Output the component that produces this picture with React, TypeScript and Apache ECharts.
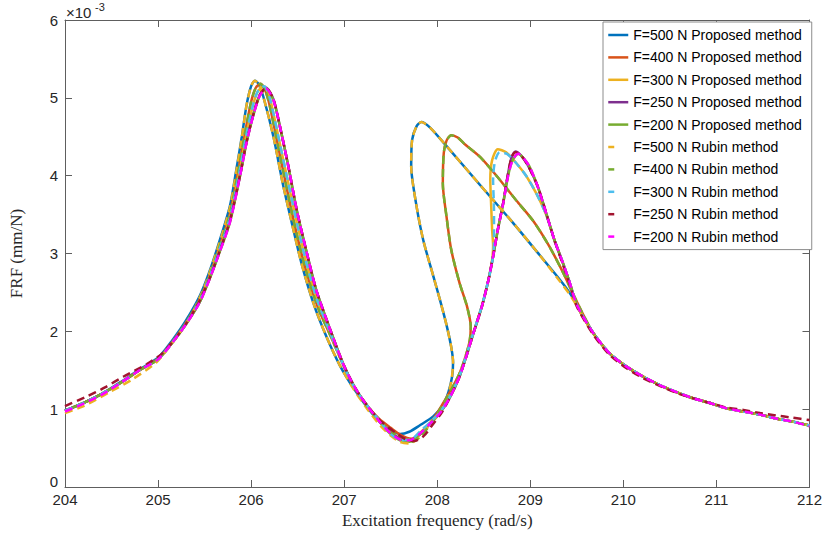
import React, { useEffect, useRef } from "react";
import * as echarts from "echarts";

// FRF values are in units of 1e-3 mm/N, frequency in rad/s
const xTicks = [204, 205, 206, 207, 208, 209, 210, 211, 212];

const TAIL = [
  [209.85, 1.72], [210.03, 1.55], [210.21, 1.42], [210.39, 1.31], [210.57, 1.22],
  [210.75, 1.14], [210.93, 1.08], [211.11, 1.01], [211.29, 0.97], [211.47, 0.93],
  [211.64, 0.88], [211.82, 0.84], [212.0, 0.79],
];
const TAIL_250R = [
  [209.85, 1.70], [210.03, 1.53], [210.21, 1.40], [210.39, 1.30], [210.57, 1.21],
  [210.75, 1.14], [210.93, 1.08], [211.11, 1.02], [211.29, 0.99], [211.47, 0.95],
  [211.64, 0.92], [211.82, 0.89], [212.0, 0.86],
];

const P500 = [
  [204.0, 0.98], [204.2, 1.08], [204.4, 1.2], [204.6, 1.35], [204.8, 1.51], [205.0, 1.66],
  [205.15, 1.88], [205.3, 2.14], [205.45, 2.46], [205.55, 2.76], [205.65, 3.12], [205.77, 3.6],
  [205.84, 4.07], [205.9, 4.5], [205.95, 4.9], [206.0, 5.15], [206.04, 5.22], [206.08, 5.18],
  [206.13, 5.02], [206.24, 4.5], [206.34, 3.9], [206.43, 3.43], [206.54, 2.88], [206.67, 2.36],
  [206.81, 1.93], [206.95, 1.57], [207.1, 1.27], [207.25, 1.02], [207.38, 0.84], [207.5, 0.72],
  [207.6, 0.68], [207.7, 0.71], [207.81, 0.79], [207.96, 0.91], [208.06, 1.05], [208.12, 1.22],
  [208.16, 1.42], [208.17, 1.6], [208.15, 1.8], [208.1, 2.08], [208.03, 2.4], [207.96, 2.7],
  [207.85, 3.17], [207.77, 3.66], [207.72, 4.12], [207.73, 4.46], [207.78, 4.64], [207.83, 4.69],
  [207.92, 4.62], [208.1, 4.38], [208.46, 3.88], [208.81, 3.4], [209.1, 2.98], [209.32, 2.66],
  [209.42, 2.5], [209.52, 2.3], [209.67, 1.99], ...TAIL,
];
const P400 = [
  [204.0, 0.98], [204.2, 1.08], [204.4, 1.2], [204.6, 1.34], [204.8, 1.5], [205.0, 1.65],
  [205.15, 1.86], [205.3, 2.11], [205.45, 2.42], [205.55, 2.71], [205.65, 3.05], [205.77, 3.5],
  [205.86, 4.05], [205.93, 4.52], [206.0, 4.95], [206.05, 5.13], [206.1, 5.18], [206.15, 5.1],
  [206.2, 4.9], [206.3, 4.32], [206.4, 3.74], [206.5, 3.2], [206.6, 2.74], [206.72, 2.3],
  [206.85, 1.95], [206.99, 1.57], [207.1, 1.3], [207.25, 1.04], [207.38, 0.87], [207.5, 0.76],
  [207.62, 0.66], [207.72, 0.62], [207.82, 0.68], [207.96, 0.88], [208.06, 1.07], [208.15, 1.25],
  [208.24, 1.46], [208.31, 1.7], [208.35, 1.89], [208.36, 2.06], [208.32, 2.32], [208.24, 2.62],
  [208.15, 3.05], [208.1, 3.47], [208.06, 3.9], [208.07, 4.29], [208.1, 4.45],
  [208.15, 4.52], [208.22, 4.49], [208.3, 4.4], [208.46, 4.24], [208.65, 3.98], [208.85, 3.68],
  [209.03, 3.42], [209.2, 3.1], [209.35, 2.76], [209.5, 2.38], [209.67, 1.99], ...TAIL,
];
const P300 = [
  [204.0, 0.98], [204.2, 1.08], [204.4, 1.2], [204.6, 1.34], [204.8, 1.5], [205.0, 1.64],
  [205.15, 1.85], [205.3, 2.1], [205.45, 2.4], [205.55, 2.69], [205.65, 3.02], [205.77, 3.45],
  [205.87, 4.02], [205.94, 4.47], [206.01, 4.86], [206.07, 5.08], [206.14, 5.15], [206.2, 5.0],
  [206.3, 4.46], [206.4, 3.9], [206.5, 3.35], [206.6, 2.85], [206.71, 2.4], [206.85, 1.98],
  [206.99, 1.57], [207.1, 1.3], [207.2, 1.12], [207.38, 0.85], [207.5, 0.7], [207.62, 0.62],
  [207.72, 0.6], [207.82, 0.7], [207.92, 0.82], [208.03, 0.96], [208.14, 1.17], [208.24, 1.43],
  [208.31, 1.68], [208.39, 1.99], [208.48, 2.33], [208.55, 2.66], [208.59, 2.92], [208.6, 3.1],
  [208.59, 3.3], [208.58, 3.6], [208.57, 3.95], [208.59, 4.2], [208.65, 4.34], [208.74, 4.3],
  [208.85, 4.16], [208.96, 3.99], [209.07, 3.76], [209.17, 3.5], [209.26, 3.17], [209.35, 2.88],
  [209.42, 2.64], [209.5, 2.34], [209.67, 1.99], ...TAIL,
];
const P250 = [
  [204.0, 0.98], [204.2, 1.08], [204.4, 1.2], [204.6, 1.34], [204.8, 1.5], [205.0, 1.64],
  [205.15, 1.85], [205.3, 2.09], [205.45, 2.38], [205.55, 2.67], [205.65, 2.99], [205.77, 3.41],
  [205.88, 4.0], [205.95, 4.43], [206.02, 4.77], [206.09, 5.03], [206.16, 5.13], [206.24, 4.98],
  [206.31, 4.63], [206.4, 4.12], [206.49, 3.56], [206.6, 3.0], [206.7, 2.53], [206.85, 2.02],
  [206.99, 1.58], [207.1, 1.31], [207.2, 1.12], [207.38, 0.84], [207.5, 0.7], [207.6, 0.62],
  [207.7, 0.6], [207.8, 0.67], [207.92, 0.81], [208.03, 0.95], [208.14, 1.16], [208.24, 1.42],
  [208.31, 1.67], [208.39, 1.98], [208.48, 2.32], [208.55, 2.66], [208.6, 2.96], [208.65, 3.3],
  [208.71, 3.66], [208.76, 4.02], [208.8, 4.24], [208.84, 4.31], [208.9, 4.26], [208.97, 4.14],
  [209.08, 3.86], [209.17, 3.52], [209.26, 3.17], [209.35, 2.88], [209.42, 2.64], [209.5, 2.34],
  [209.67, 1.99], ...TAIL,
];
const P200 = [
  [204.0, 0.98], [204.2, 1.08], [204.4, 1.2], [204.6, 1.34], [204.8, 1.5], [205.0, 1.64],
  [205.15, 1.85], [205.3, 2.09], [205.45, 2.38], [205.55, 2.66], [205.65, 2.98], [205.77, 3.39],
  [205.88, 3.99], [205.95, 4.42], [206.02, 4.76], [206.09, 5.02], [206.16, 5.12], [206.24, 4.97],
  [206.31, 4.63], [206.4, 4.12], [206.49, 3.56], [206.6, 3.0], [206.7, 2.53], [206.85, 2.02],
  [206.99, 1.58], [207.1, 1.31], [207.2, 1.12], [207.38, 0.84], [207.49, 0.69], [207.6, 0.6],
  [207.7, 0.58], [207.8, 0.66], [207.92, 0.81], [208.03, 0.95], [208.14, 1.16], [208.24, 1.42],
  [208.31, 1.67], [208.39, 1.98], [208.48, 2.32], [208.55, 2.66], [208.6, 2.96], [208.65, 3.3],
  [208.71, 3.65], [208.76, 3.99], [208.81, 4.2], [208.87, 4.28], [208.93, 4.22], [208.99, 4.12],
  [209.08, 3.86], [209.17, 3.52], [209.26, 3.17], [209.35, 2.88], [209.42, 2.64], [209.5, 2.34],
  [209.67, 1.99], ...TAIL,
];

const R500 = [
  [204.0, 0.95], [204.2, 1.04], [204.48, 1.22], [204.72, 1.38], [204.98, 1.6], [205.16, 1.86],
  [205.34, 2.17], [205.5, 2.58], [205.65, 3.1], [205.77, 3.58], [205.84, 4.05], [205.9, 4.49],
  [205.95, 4.9], [206.0, 5.15], [206.04, 5.22], [206.08, 5.18], [206.13, 5.02], [206.24, 4.5],
  [206.34, 3.9], [206.43, 3.43], [206.54, 2.88], [206.67, 2.36], [206.81, 1.93], [206.95, 1.57],
  [207.1, 1.26], [207.25, 1.0], [207.38, 0.8], [207.5, 0.66], [207.6, 0.58], [207.7, 0.56],
  [207.8, 0.63], [207.92, 0.8], [208.03, 0.96], [208.1, 1.12], [208.15, 1.35], [208.17, 1.6],
  [208.15, 1.8], [208.1, 2.08], [208.03, 2.4], [207.96, 2.7], [207.85, 3.17], [207.77, 3.66],
  [207.72, 4.12], [207.73, 4.46], [207.78, 4.64], [207.83, 4.69], [207.92, 4.62], [208.1, 4.38],
  [208.46, 3.88], [208.81, 3.4], [209.1, 2.98], [209.32, 2.64], [209.42, 2.48], [209.52, 2.29],
  [209.67, 1.98], ...TAIL,
];
const R400 = [
  [204.0, 0.98], [204.2, 1.08], [204.4, 1.2], [204.6, 1.34], [204.8, 1.5], [205.0, 1.65],
  [205.15, 1.86], [205.3, 2.11], [205.45, 2.42], [205.55, 2.71], [205.65, 3.05], [205.77, 3.5],
  [205.86, 4.05], [205.93, 4.52], [206.0, 4.95], [206.05, 5.13], [206.1, 5.18], [206.15, 5.1],
  [206.2, 4.9], [206.3, 4.32], [206.4, 3.74], [206.5, 3.2], [206.6, 2.74], [206.72, 2.3],
  [206.85, 1.95], [206.99, 1.57], [207.1, 1.3], [207.25, 1.03], [207.38, 0.85], [207.5, 0.72],
  [207.62, 0.62], [207.72, 0.58], [207.82, 0.65], [207.96, 0.86], [208.06, 1.06], [208.15, 1.25],
  [208.24, 1.46], [208.31, 1.7], [208.35, 1.89], [208.36, 2.06], [208.32, 2.32], [208.24, 2.62],
  [208.15, 3.05], [208.1, 3.47], [208.06, 3.9], [208.07, 4.29], [208.1, 4.45],
  [208.15, 4.52], [208.22, 4.49], [208.3, 4.4], [208.46, 4.24], [208.65, 3.98], [208.85, 3.68],
  [209.03, 3.42], [209.2, 3.1], [209.35, 2.76], [209.5, 2.38], [209.67, 1.99], ...TAIL,
];
const R300 = [
  [204.0, 0.98], [204.2, 1.08], [204.4, 1.2], [204.6, 1.34], [204.8, 1.5], [205.0, 1.64],
  [205.15, 1.85], [205.3, 2.1], [205.45, 2.4], [205.55, 2.69], [205.65, 3.02], [205.77, 3.45],
  [205.87, 4.02], [205.94, 4.47], [206.01, 4.86], [206.07, 5.08], [206.14, 5.15], [206.2, 5.0],
  [206.3, 4.46], [206.4, 3.9], [206.5, 3.35], [206.6, 2.85], [206.71, 2.4], [206.85, 1.98],
  [206.99, 1.57], [207.1, 1.3], [207.2, 1.12], [207.38, 0.85], [207.5, 0.68], [207.62, 0.6],
  [207.72, 0.61], [207.82, 0.72], [207.92, 0.83], [208.03, 0.96], [208.14, 1.17], [208.24, 1.43],
  [208.31, 1.68], [208.39, 1.99], [208.48, 2.33], [208.55, 2.66], [208.6, 2.96], [208.61, 3.2],
  [208.61, 3.55], [208.6, 3.95], [208.62, 4.18], [208.67, 4.3], [208.75, 4.28], [208.85, 4.16],
  [208.96, 3.99], [209.07, 3.76], [209.17, 3.5], [209.26, 3.17], [209.35, 2.88], [209.42, 2.64],
  [209.5, 2.34], [209.67, 1.99], ...TAIL,
];
const R250 = [
  [204.0, 1.04], [204.23, 1.16], [204.43, 1.28], [204.63, 1.42], [204.88, 1.58], [205.05, 1.72],
  [205.2, 1.93], [205.33, 2.15], [205.45, 2.4], [205.55, 2.67], [205.65, 2.99], [205.77, 3.41],
  [205.88, 4.0], [205.95, 4.43], [206.02, 4.77], [206.09, 5.03], [206.16, 5.13], [206.24, 4.98],
  [206.31, 4.63], [206.4, 4.12], [206.49, 3.56], [206.6, 3.0], [206.7, 2.53], [206.85, 2.02],
  [206.99, 1.58], [207.1, 1.31], [207.2, 1.12], [207.38, 0.86], [207.55, 0.7], [207.65, 0.62],
  [207.75, 0.59], [207.85, 0.65], [207.95, 0.8], [208.05, 0.96], [208.14, 1.16], [208.24, 1.42],
  [208.31, 1.67], [208.39, 1.98], [208.48, 2.32], [208.55, 2.66], [208.6, 2.96], [208.65, 3.3],
  [208.71, 3.66], [208.76, 4.02], [208.8, 4.24], [208.84, 4.3], [208.9, 4.26], [208.97, 4.14],
  [209.08, 3.86], [209.17, 3.52], [209.26, 3.17], [209.35, 2.86], [209.42, 2.62], [209.5, 2.32],
  [209.67, 1.97], ...TAIL_250R,
];
const R200 = [
  [204.0, 0.97], [204.2, 1.07], [204.4, 1.19], [204.6, 1.34], [204.8, 1.5], [205.0, 1.64],
  [205.15, 1.85], [205.3, 2.09], [205.45, 2.38], [205.55, 2.66], [205.65, 2.98], [205.77, 3.39],
  [205.88, 3.99], [205.95, 4.42], [206.02, 4.76], [206.09, 5.02], [206.16, 5.12], [206.24, 4.97],
  [206.31, 4.63], [206.4, 4.12], [206.49, 3.56], [206.6, 3.0], [206.7, 2.53], [206.85, 2.02],
  [206.99, 1.58], [207.1, 1.31], [207.2, 1.12], [207.38, 0.84], [207.49, 0.7], [207.6, 0.61],
  [207.7, 0.6], [207.8, 0.67], [207.92, 0.81], [208.03, 0.95], [208.14, 1.16], [208.24, 1.42],
  [208.31, 1.67], [208.39, 1.98], [208.48, 2.32], [208.55, 2.66], [208.6, 2.96], [208.65, 3.3],
  [208.71, 3.65], [208.76, 3.99], [208.81, 4.2], [208.87, 4.28], [208.93, 4.22], [208.99, 4.12],
  [209.08, 3.86], [209.17, 3.52], [209.26, 3.17], [209.35, 2.88], [209.42, 2.64], [209.5, 2.34],
  [209.67, 1.99], ...TAIL.slice(0, -1), [212.0, 0.78],
];

const seriesNames = [
  "F=500 N Proposed method",
  "F=400 N Proposed method",
  "F=300 N Proposed method",
  "F=250 N Proposed method",
  "F=200 N Proposed method",
  "F=500 N Rubin method",
  "F=400 N Rubin method",
  "F=300 N Rubin method",
  "F=250 N Rubin method",
  "F=200 N Rubin method",
];
const seriesData = [P500, P400, P300, P250, P200, R500, R400, R300, R250, R200];
const seriesColors = [
  "#0072BD", "#D95319", "#EDB120", "#7E2F8E", "#77AC30",
  "#EDB120", "#77AC30", "#4DBEEE", "#A2142F", "#FF00FF",
];
const dashedFlags = [false, false, false, false, false, true, true, true, true, true];

const AXIS_COLOR = "#5e5e5e";
const TEXT_COLOR = "#262626";

export default function App() {
  const ref = useRef<HTMLDivElement>(null);
  useEffect(() => {
    const chart = echarts.init(ref.current!, null, { renderer: "svg" });
    const tickCommon = {
      axisLine: { show: true, onZero: false, lineStyle: { color: AXIS_COLOR, width: 1 } },
      axisTick: { show: true, inside: true, length: 7, lineStyle: { color: AXIS_COLOR, width: 1 } },
      splitLine: { show: false },
    };
    chart.setOption({
      animation: false,
      backgroundColor: "#ffffff",
      grid: { left: 65, right: 15, top: 20, bottom: 49 },
      xAxis: [
        {
          type: "value", min: 204, max: 212, interval: 1, position: "bottom",
          ...tickCommon,
          axisLabel: {
            color: TEXT_COLOR, fontSize: 15, fontFamily: "Liberation Sans", margin: 5,
            formatter: (v: number) => (xTicks.includes(v) ? String(v) : ""),
          },
          name: "Excitation frequency (rad/s)",
          nameLocation: "middle",
          nameGap: 24,
          nameTextStyle: { fontFamily: "Liberation Serif", fontSize: 17, color: TEXT_COLOR },
        },
        {
          type: "value", min: 204, max: 212, interval: 1, position: "top",
          ...tickCommon,
          axisLabel: { show: false },
        },
      ],
      yAxis: [
        {
          type: "value", min: 0, max: 6, interval: 1, position: "left",
          ...tickCommon,
          axisLabel: {
            color: TEXT_COLOR, fontSize: 15, fontFamily: "Liberation Sans", margin: 7,
            formatter: (v: number) => (v === 0 ? "{z|0}" : String(v)),
            rich: { z: { fontSize: 15, fontFamily: "Liberation Sans", color: TEXT_COLOR, padding: [0, 0, 12, 0] } },
          },
          name: "FRF (mm/N)",
          nameLocation: "middle",
          nameGap: 40,
          nameRotate: 90,
          nameTextStyle: { fontFamily: "Liberation Serif", fontSize: 17, color: TEXT_COLOR },
        },
        {
          type: "value", min: 0, max: 6, interval: 1, position: "right",
          ...tickCommon,
          axisLabel: { show: false },
        },
      ],
      legend: {
        orient: "vertical",
        left: 603,
        top: 22,
        padding: [6, 10, 6, 4],
        itemGap: 8.4,
        itemWidth: 20,
        itemHeight: 14,
        backgroundColor: "#ffffff",
        borderColor: "#8c8c8c",
        borderWidth: 1,
        borderRadius: 0,
        itemStyle: { opacity: 0, borderWidth: 0 },
        textStyle: { color: "#000000", fontSize: 14, fontFamily: "Liberation Sans" },
        data: seriesNames.map((n, i) =>
          dashedFlags[i]
            ? { name: n, lineStyle: { type: [6, 30], width: 2.5 } }
            : { name: n, lineStyle: { width: 2.5 } }
        ),
      },
      graphic: [
        {
          type: "text", left: 66, top: 5,
          style: { text: "×10", fontSize: 15, fontFamily: "Liberation Sans", fill: TEXT_COLOR },
        },
        {
          type: "text", left: 95, top: 1,
          style: { text: "-3", fontSize: 11, fontFamily: "Liberation Sans", fill: TEXT_COLOR },
        },
      ],
      series: seriesNames.map((n, i) => ({
        name: n,
        type: "line",
        xAxisIndex: 0,
        yAxisIndex: 0,
        data: seriesData[i],
        showSymbol: false,
        symbol: "none",
        smooth: 0.25,
        color: seriesColors[i],
        lineStyle: {
          color: seriesColors[i],
          width: 2.5,
          type: dashedFlags[i] ? [8, 5] : "solid",
        },
        emphasis: { disabled: true },
        z: 2 + i,
      })),
    });
    return () => chart.dispose();
  }, []);
  return (
    <div
      ref={ref}
      style={{ position: "fixed", left: 0, top: 0, width: 825, height: 536 }}
    />
  );
}
